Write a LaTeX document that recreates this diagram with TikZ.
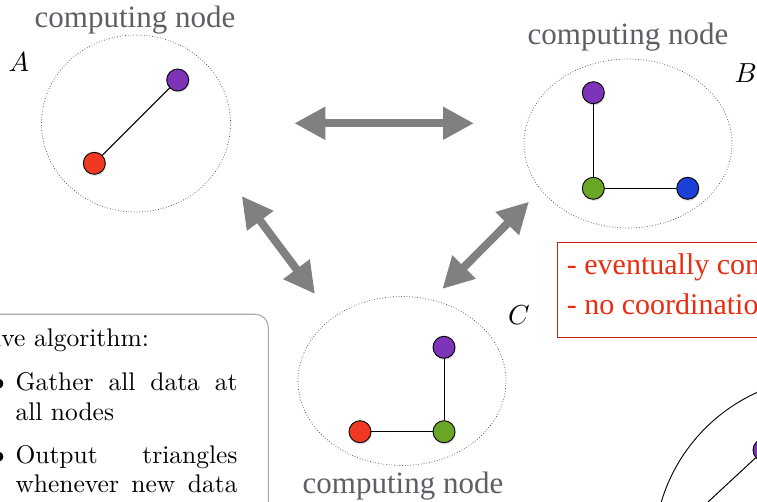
\documentclass[tikz,border=0pt]{standalone}
\usepackage{fontspec}
\newfontfamily\labelfont{Liberation Serif}
\usetikzlibrary{arrows.meta,shadows,shapes.geometric}

\definecolor{labelgray}{RGB}{92,96,102}
\definecolor{arrowgray}{RGB}{128,128,128}
\definecolor{vpurple}{RGB}{126,52,184}
\definecolor{vred}{RGB}{240,56,34}
\definecolor{vgreen}{RGB}{106,166,38}
\definecolor{vblue}{RGB}{28,64,214}
\definecolor{notered}{RGB}{236,44,16}
\definecolor{boxgray}{RGB}{170,170,174}

\tikzset{
  vertex/.style={circle, draw=black, line width=0.9pt, minimum size=22pt,
    inner sep=0pt, drop shadow={opacity=0.28, shadow xshift=0.8pt, shadow yshift=-1.6pt}},
  region/.style={ellipse, draw=black!75, dotted, line width=0.7pt,
    inner sep=0pt, minimum width=208pt, minimum height=169pt},
  link/.style={draw=black, line width=1pt},
  caption/.style={font=\labelfont\fontsize{31}{36}\selectfont, text=labelgray,
    anchor=base, inner sep=0pt},
  tag/.style={font=\fontsize{10}{12}\selectfont, scale=2.75, transform shape,
    anchor=base, inner sep=0pt},
  bigarrow/.style={draw=arrowgray, line width=8pt,
    arrows={Triangle[length=31pt,width=31pt]-Triangle[length=31pt,width=31pt]}},
  notetext/.style={font=\labelfont\fontsize{30}{36}\selectfont, text=notered,
    anchor=base west, inner sep=0pt},
  cmtext/.style={font=\fontsize{10}{12}\selectfont, scale=2.55, transform shape,
    anchor=base west, inner sep=0pt}
}

\begin{document}
\begin{tikzpicture}[x=1pt,y=-1pt]
\useasboundingbox (0,0) rectangle (757,502);
\clip (0,0) rectangle (757,502);

% computing node A
\node[region, minimum width=189pt, minimum height=177pt] (A) at (136,123.5) {};
\node[caption] (capA) at (135,28) {computing node};
\node[tag] (tagA) at (19,72) {$A$};
\node[vertex, fill=vpurple] (a1) at (177.7,80) {};
\node[vertex, fill=vred] (a2) at (94.3,163.3) {};
\draw[link] (a1) -- (a2);

% computing node B
\node[region] (B) at (628,143.5) {};
\node[caption] (capB) at (628,45) {computing node};
\node[tag, anchor=base west] (tagB) at (734,83) {$B$};
\node[vertex, fill=vpurple] (b1) at (593.3,92.7) {};
\node[vertex, fill=vgreen] (b2) at (593.3,188.3) {};
\node[vertex, fill=vblue] (b3) at (687.7,188.3) {};
\draw[link] (b1) -- (b2);
\draw[link] (b2) -- (b3);

% computing node C
\node[region] (C) at (402,381) {};
\node[caption] (capC) at (403,493) {computing node};
\node[tag] (tagC) at (519,325) {$C$};
\node[vertex, fill=vpurple] (c1) at (444,347.3) {};
\node[vertex, fill=vgreen] (c2) at (444,431.7) {};
\node[vertex, fill=vred] (c3) at (360,431.7) {};
\draw[link] (c1) -- (c2);
\draw[link] (c2) -- (c3);

% communication between the nodes
\coordinate (ab1) at (294.3,123.3);
\coordinate (ab2) at (474,123.3);
\coordinate (ac1) at (241.7,196);
\coordinate (ac2) at (315,294);
\coordinate (bc1) at (529,201.7);
\coordinate (bc2) at (442.3,289);
\draw[bigarrow] (ab1) -- (ab2);
\draw[bigarrow] (ac1) -- (ac2);
\draw[bigarrow] (bc1) -- (bc2);

% properties note
\node[draw=notered!85!black, line width=1.3pt, minimum height=95pt,
      minimum width=260pt, anchor=north west, inner sep=0pt] (note) at (557,242) {};
\node[notetext] (n1) at (566.7,275) {- eventually consistent};
\node[notetext] (n2) at (566.7,315) {- no coordination};

% algorithm box
\draw[boxgray, line width=1.1pt, rounded corners=13pt] (-40,560) rectangle (268.3,314.3);
\node[cmtext] (hdr) at (-38,346.7) {Naive algorithm:};
\node[cmtext] (bul1) at (-8.3,390) {$\bullet$};
\node[cmtext] (l1) at (15,390) {\makebox[87.06pt][s]{Gather all data at}};
\node[cmtext] (l2) at (15,420) {all nodes};
\node[cmtext] (bul2) at (-8.3,463) {$\bullet$};
\node[cmtext] (l3) at (15,463) {\makebox[87.06pt][s]{Output triangles}};
\node[cmtext] (l4) at (15,492.7) {\makebox[87.06pt][s]{whenever new data}};

% enlarged view, partly visible
\node[circle, draw=black, line width=0.9pt, minimum size=350pt, inner sep=0pt] (big) at (829,552) {};
\node[vertex, fill=vpurple] (d1) at (764,450) {};
\coordinate (d2) at (680,528);
\draw[link] (d1) -- (d2);
\end{tikzpicture}
\end{document}
